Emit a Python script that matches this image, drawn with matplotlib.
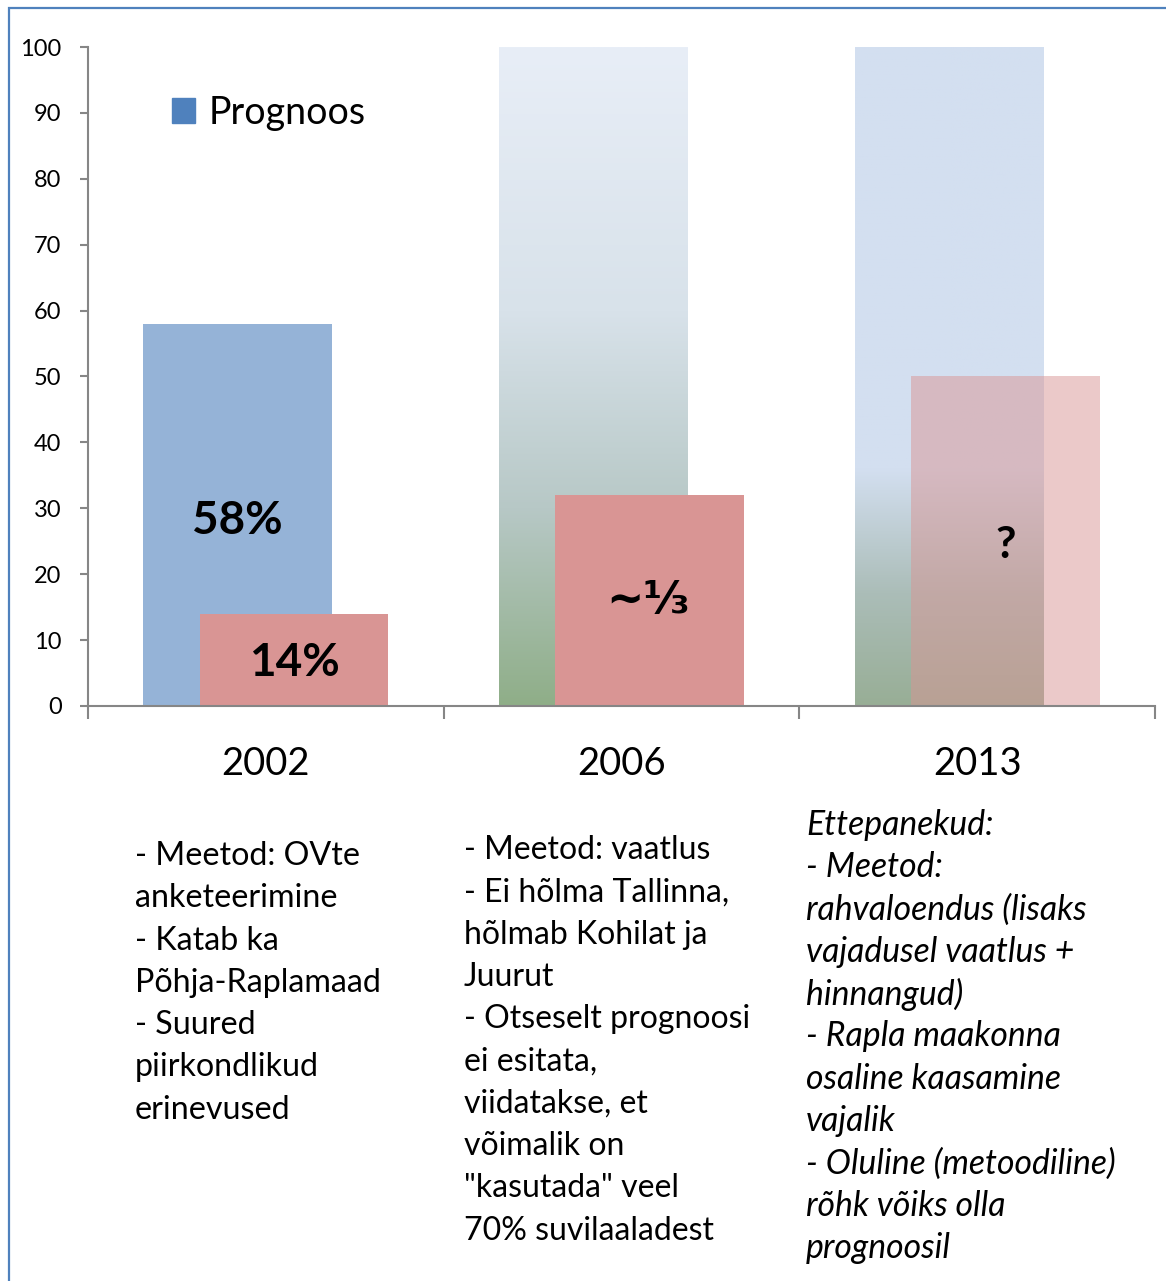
import matplotlib.pyplot as plt
import matplotlib.colors as mcolors
from matplotlib.patches import Patch, Rectangle
import numpy as np

# data
years = ['2002', '2006', '2013']
prognoos = [58, 100, 100]          # blue background bars
tegelik = [14, 32, 50]             # red bars
bar_labels = ['58%', '~⅓', '?']
red_labels = ['14%', '', '']

col1 = ['- Meetod: OVte', 'anketeerimine', '- Katab ka', 'Põhja-Raplamaad',
        '- Suured', 'piirkondlikud', 'erinevused']
col2 = ['- Meetod: vaatlus', '- Ei hõlma Tallinna,', 'hõlmab Kohilat ja', 'Juurut',
        '- Otseselt prognoosi', 'ei esitata,', 'viidatakse, et', 'võimalik on',
        '"kasutada" veel', '70% suvilaaladest']
col3 = ['Ettepanekud:', '- Meetod:', 'rahvaloendus (lisaks', 'vajadusel vaatlus +',
        'hinnangud)', '- Rapla maakonna', 'osaline kaasamine', 'vajalik',
        '- Oluline (metoodiline)', 'rõhk võiks olla', 'prognoosil']

plt.rcParams['font.family'] = ['Lato', 'DejaVu Sans']

W, H = 1166, 1281
fig = plt.figure(figsize=(W/100, H/100), dpi=100)
ax = fig.add_axes([88/W, 1-706/H, (1155-88)/W, (706-47)/H])

x = np.arange(len(years))
width = 0.53
off = 0.079

blue = ax.bar(x - off, prognoos, width, color='#95b3d7', zorder=1)

# gradient fills for the 2006 and 2013 bars (light blue top -> green bottom)
grads = [None,
         [(0.0, '#8fae88'), (0.3, '#b7c8c6'), (0.6, '#d8e2ea'), (1.0, '#e8eef7')],
         [(0.0, '#98ae96'), (0.17, '#abbdb8'), (0.36, '#d3dff0'), (1.0, '#d3dff0')]]
for rect, g in zip(blue, grads):
    if g is None:
        continue
    cmap = mcolors.LinearSegmentedColormap.from_list('g', g)
    grad = np.linspace(1, 0, 256).reshape(-1, 1)
    x0 = rect.get_x()
    ax.imshow(grad, cmap=cmap, vmin=0, vmax=1, aspect='auto', zorder=1,
              extent=[x0, x0 + rect.get_width(), 0, rect.get_height()])
    rect.set_visible(False)

red = ax.bar(x + off, tegelik, width, color='#d99594', zorder=2)
red[2].set_alpha(0.5)

ax.set_xlim(-0.5, 2.5)
ax.set_ylim(0, 100)

# labels inside bars
ax.text(x[0] - off, 28, bar_labels[0], ha='center', va='center', fontsize=33,
        fontweight='bold', zorder=3)
ax.text(x[0] + off, 6.5, red_labels[0], ha='center', va='center', fontsize=33,
        fontweight='bold', zorder=3)
ax.text(x[1] + 0.075, 16, bar_labels[1], ha='center', va='center', fontsize=32,
        fontweight='bold', zorder=3, family=['DejaVu Sans'])
ax.text(x[2] + 0.08, 24.5, bar_labels[2], ha='center', va='center', fontsize=32,
        fontweight='bold', zorder=3)

for s in ['top', 'right']:
    ax.spines[s].set_visible(False)
for s in ['left', 'bottom']:
    ax.spines[s].set_color('#868686')
    ax.spines[s].set_linewidth(1.5)

ax.set_yticks(range(0, 101, 10))
ax.tick_params(axis='y', length=6, width=1.5, color='#868686', pad=13, labelsize=17)
ax.set_xticks(x, years)
ax.tick_params(axis='x', which='major', length=0, pad=29, labelsize=27.5)
ax.set_xticks([-0.5, 0.5, 1.5, 2.5], minor=True)
ax.tick_params(axis='x', which='minor', length=9, width=1.5, color='#868686')
ax.set_facecolor('none')

ax.legend(handles=[Patch(color='#4f81bd')], labels=['Prognoos'], loc='upper left',
          bbox_to_anchor=(0.047, 0.979), frameon=False, fontsize=27,
          handlelength=0.62, handleheight=0.62, handletextpad=0.35)

# text blocks under the chart
pitch = 42.3
for lines, x0, y0, style, fs in [(col1, 135, 856, 'normal', 23.2), (col2, 464, 850, 'normal', 23),
                                 (col3, 806, 825, 'italic', 24.3)]:
    for i, line in enumerate(lines):
        fig.text(x0/W, 1-(y0 + i*pitch)/H, line, ha='left', va='center',
                 fontsize=fs, style=style)

# blue frame round the slide
fig.patches.append(Rectangle((9/W, -0.05), 1.2, 1-8/H+0.05, transform=fig.transFigure,
                             fill=False, edgecolor='#4f81bd', linewidth=1.6))

fig.savefig('out.png', dpi=100)
